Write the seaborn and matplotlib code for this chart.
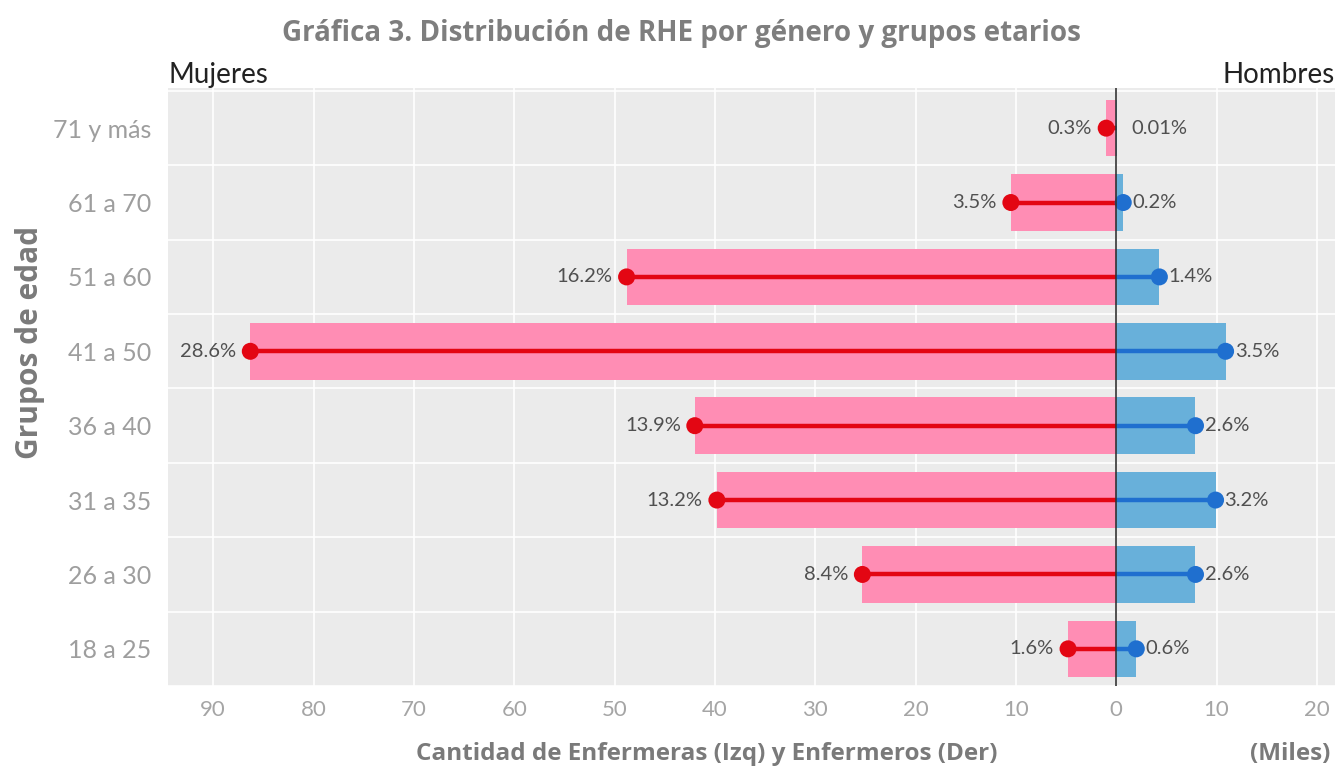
import numpy as np
import pandas as pd
import matplotlib
matplotlib.use('Agg')
import matplotlib.pyplot as plt
import seaborn as sns

# Data (thousands of nurses)
grupos = ['71 y más', '61 a 70', '51 a 60', '41 a 50', '36 a 40', '31 a 35', '26 a 30', '18 a 25']
mujeres = [1.0, 10.5, 48.8, 86.3, 42.0, 39.8, 25.3, 4.8]
hombres = [0.03, 0.7, 4.3, 10.9, 7.9, 9.9, 7.9, 2.0]
pct_mujeres = ['0.3%', '3.5%', '16.2%', '28.6%', '13.9%', '13.2%', '8.4%', '1.6%']
pct_hombres = ['0.01%', '0.2%', '1.4%', '3.5%', '2.6%', '3.2%', '2.6%', '0.6%']
xticks = [-90, -80, -70, -60, -50, -40, -30, -20, -10, 0, 10, 20]

df = pd.DataFrame({
    'grupo': grupos * 2,
    'valor': [-v for v in mujeres] + hombres,
    'sexo': ['Mujeres'] * len(grupos) + ['Hombres'] * len(grupos),
})

sns.set_theme(style='darkgrid', rc={'axes.facecolor': '#EBEBEB', 'grid.color': 'white',
                                     'grid.linewidth': 1.2})
plt.rcParams['font.family'] = ['Lato', 'DejaVu Sans']

fig = plt.figure(figsize=(13.41, 7.69), dpi=100)
ax = fig.add_axes([0.1253, 0.1079, 0.8702, 0.7777])

sns.barplot(data=df, x='valor', y='grupo', hue='sexo', order=grupos, dodge=False,
            palette={'Mujeres': '#FF8DB4', 'Hombres': '#68B0DA'}, width=0.76,
            saturation=1, linewidth=0, orient='h', ax=ax, legend=False, zorder=2)

pos = np.arange(len(grupos))
neg_m = [-v for v in mujeres]
ax.hlines(pos, neg_m, 0, color='#E30613', lw=3.2, zorder=3)
ax.hlines(pos, 0, hombres, color='#1F6FCF', lw=3.2, zorder=3)

# dots at the bar ends (the 0.01% one is too small to show in the original)
pts = pd.DataFrame({'x': neg_m + hombres, 'y': list(pos) * 2,
                    'sexo': ['Mujeres'] * len(grupos) + ['Hombres'] * len(grupos)})
pts = pts[pts['x'].abs() > 0.1]
sns.scatterplot(data=pts, x='x', y='y', hue='sexo',
                palette={'Mujeres': '#E30613', 'Hombres': '#1F6FCF'},
                s=150, linewidth=0, legend=False, ax=ax, zorder=4)

ax.axvline(0, color='#333333', lw=1.2, zorder=5)

for i in range(len(grupos)):
    ax.text(neg_m[i] - 1.4, pos[i], pct_mujeres[i], ha='right', va='center',
            fontsize=14.5, color='#505050', zorder=6)
    ax.text(max(hombres[i], 0.6) + 0.9, pos[i], pct_hombres[i], ha='left', va='center',
            fontsize=14.5, color='#505050', zorder=6)

ax.set_xlim(-94.5, 21.8)
ax.set_ylim(7.5, -0.54)
ax.set_xticks(xticks)
ax.set_xticklabels([str(abs(t)) for t in xticks], color='#A5A5A5', fontsize=16)
ax.set_yticks(pos)
ax.set_yticklabels(grupos, color='#9E9E9E', fontsize=18)
ax.set_yticks(np.arange(-0.5, len(grupos), 1.0), minor=True)
ax.grid(False, axis='y', which='major')
ax.grid(True, axis='y', which='minor', color='white', lw=1.2)
ax.grid(True, axis='x', which='major', color='white', lw=1.2)
ax.tick_params(axis='x', which='both', length=0, pad=10)
ax.tick_params(axis='y', which='both', length=0, pad=12)
for s in ax.spines.values():
    s.set_visible(False)

ax.set_xlabel('')
ax.set_ylabel('Grupos de edad', fontsize=21.5, fontweight='bold', color='#7A7A7A',
              family=['Open Sans', 'DejaVu Sans'])
ax.yaxis.set_label_coords(-0.105, 0.574)

fig.text(0.508, 0.957, 'Gráfica 3. Distribución de RHE por género y grupos etarios',
         ha='center', va='center', fontsize=20, fontweight='bold', color='#7E7E7E',
         family=['Open Sans', 'DejaVu Sans'])
fig.text(0.1253, 0.902, 'Mujeres', ha='left', va='center', fontsize=20, color='#222222')
fig.text(0.9955, 0.902, 'Hombres', ha='right', va='center', fontsize=20, color='#222222')
fig.text(0.527, 0.02, 'Cantidad de Enfermeras (Izq) y Enfermeros (Der)', ha='center',
         va='center', fontsize=17.5, fontweight='bold', color='#7A7A7A',
         family=['Open Sans', 'DejaVu Sans'])
fig.text(0.992, 0.02, '(Miles)', ha='right', va='center', fontsize=17.5, fontweight='bold',
         color='#7A7A7A', family=['Open Sans', 'DejaVu Sans'])

fig.savefig('out.png', dpi=100)
